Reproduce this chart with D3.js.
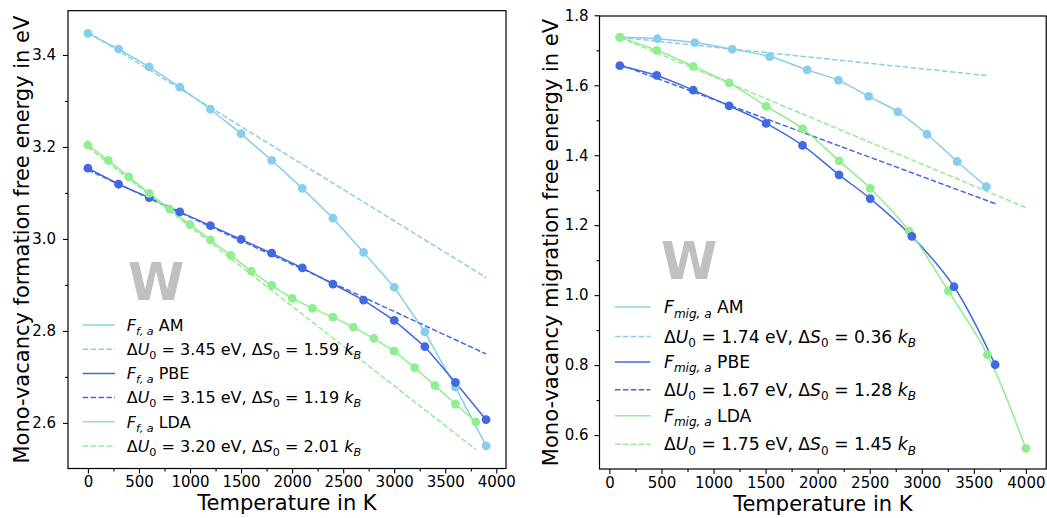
<!DOCTYPE html>
<html><head><meta charset="utf-8">
<script src="https://cdn.jsdelivr.net/npm/d3@7"></script>
<style>
body{margin:0;background:#fff;}
svg{display:block;font-family:"DejaVu Sans",sans-serif;}
</style></head>
<body><svg id="c" width="1047" height="518"></svg>
<script>
// ---------- data ----------
const leftAM_T  = [0,300,600,900,1200,1500,1800,2100,2400,2700,3000,3300,3600,3900];
const leftAM_F  = [3.447,3.413,3.374,3.330,3.282,3.229,3.171,3.110,3.045,2.971,2.895,2.798,2.678,2.550];
const leftPBE_T = [0,300,600,900,1200,1500,1800,2100,2400,2700,3000,3300,3600,3900];
const leftPBE_F = [3.154,3.119,3.090,3.059,3.029,2.999,2.969,2.937,2.902,2.867,2.823,2.766,2.688,2.607];
const leftLDA_T = [0,200,400,600,800,1000,1200,1400,1600,1800,2000,2200,2400,2600,2800,3000,3200,3400,3600,3800];
const leftLDA_F = [3.204,3.171,3.135,3.099,3.065,3.031,2.998,2.964,2.930,2.899,2.871,2.849,2.830,2.808,2.784,2.756,2.720,2.681,2.641,2.602];
const leftFitAM_T = [0,3900],  leftFitAM_F = [3.45,2.916];
const leftFitPBE_T = [0,3900], leftFitPBE_F = [3.15,2.750];
const leftFitLDA_T = [0,3800], leftFitLDA_F = [3.20,2.542];

const rightAM_T  = [100,460,820,1180,1540,1900,2200,2490,2770,3050,3340,3620];
const rightAM_F  = [1.737,1.733,1.722,1.703,1.682,1.644,1.614,1.568,1.524,1.460,1.382,1.310];
const rightPBE_T = [100,455,805,1150,1505,1855,2205,2505,2905,3310,3705];
const rightPBE_F = [1.656,1.628,1.586,1.541,1.491,1.428,1.344,1.276,1.168,1.024,0.801];
const rightLDA_T = [100,455,805,1150,1505,1855,2205,2505,2880,3255,3630,4000];
const rightLDA_F = [1.737,1.700,1.654,1.607,1.540,1.476,1.384,1.305,1.183,1.012,0.830,0.562];
const rightFitAM_T = [100,3620],  rightFitAM_F = [1.737,1.628];
const rightFitPBE_T = [100,3710], rightFitPBE_F = [1.659,1.261];
const rightFitLDA_T = [100,4000], rightFitLDA_F = [1.737,1.250];

const xTicks = [0,500,1000,1500,2000,2500,3000,3500,4000];
const xMinor = [250,750,1250,1750,2250,2750,3250,3750];
const leftYTicks = [2.6,2.8,3.0,3.2,3.4];
const leftYMinor = [2.7,2.9,3.1,3.3];
const rightYTicks = [0.6,0.8,1.0,1.2,1.4,1.6,1.8];
const rightYMinor = [0.7,0.9,1.1,1.3,1.5,1.7];

const leftLegend = [
  {lab:[["F",1,0],["f, a",1,1],[" AM",0,0]]},
  {lab:[["Δ",0,0],["U",1,0],["0",0,1],[" = 3.45 eV, Δ",0,0],["S",1,0],["0",0,1],[" = 1.59 ",0,0],["k",1,0],["B",1,1]]},
  {lab:[["F",1,0],["f, a",1,1],[" PBE",0,0]]},
  {lab:[["Δ",0,0],["U",1,0],["0",0,1],[" = 3.15 eV, Δ",0,0],["S",1,0],["0",0,1],[" = 1.19 ",0,0],["k",1,0],["B",1,1]]},
  {lab:[["F",1,0],["f, a",1,1],[" LDA",0,0]]},
  {lab:[["Δ",0,0],["U",1,0],["0",0,1],[" = 3.20 eV, Δ",0,0],["S",1,0],["0",0,1],[" = 2.01 ",0,0],["k",1,0],["B",1,1]]}
];
const rightLegend = [
  {lab:[["F",1,0],["mig, a",1,1],[" AM",0,0]]},
  {lab:[["Δ",0,0],["U",1,0],["0",0,1],[" = 1.74 eV, Δ",0,0],["S",1,0],["0",0,1],[" = 0.36 ",0,0],["k",1,0],["B",1,1]]},
  {lab:[["F",1,0],["mig, a",1,1],[" PBE",0,0]]},
  {lab:[["Δ",0,0],["U",1,0],["0",0,1],[" = 1.67 eV, Δ",0,0],["S",1,0],["0",0,1],[" = 1.28 ",0,0],["k",1,0],["B",1,1]]},
  {lab:[["F",1,0],["mig, a",1,1],[" LDA",0,0]]},
  {lab:[["Δ",0,0],["U",1,0],["0",0,1],[" = 1.75 eV, Δ",0,0],["S",1,0],["0",0,1],[" = 1.45 ",0,0],["k",1,0],["B",1,1]]}
];

const C_AM = "#87CEEB", C_PBE = "#4169E1", C_LDA = "#90EE90";
const zip = (T,F) => T.map((t,i)=>[t,F[i]]);

const svg = d3.select("#c");

function panel(o){
  const g = svg.append("g");
  const x = d3.scaleLinear().domain(o.xdom).range([o.x0,o.x1]);
  const y = d3.scaleLinear().domain(o.ydom).range([o.y1,o.y0]);
  // watermark
  g.append("text").attr("x",o.wx).attr("y",o.wy).attr("font-size",51).attr("font-weight","bold")
    .attr("fill","#c0c0c0").text("W");
  const clip = "clip"+o.id;
  svg.append("clipPath").attr("id",clip).append("rect")
    .attr("x",o.x0).attr("y",o.y0).attr("width",o.x1-o.x0).attr("height",o.y1-o.y0);
  const pg = g.append("g").attr("clip-path",`url(#${clip})`);
  // lines
  o.series.forEach(s=>{
    pg.append("path").datum(zip(s.T,s.F)).attr("fill","none").attr("stroke",s.c).attr("stroke-width",1.5)
      .attr("d",d3.line().x(d=>x(d[0])).y(d=>y(d[1])).curve(o.curve));
    pg.append("path").datum(zip(s.fT,s.fF)).attr("fill","none").attr("stroke",s.c).attr("stroke-width",1.5)
      .attr("stroke-dasharray","5.5,2.4")
      .attr("d",d3.line().x(d=>x(d[0])).y(d=>y(d[1])));
  });
  o.markerOrder.forEach(i=>{
    const s=o.series[i];
    pg.selectAll(null).data(zip(s.T,s.F)).enter().append("circle")
      .attr("cx",d=>x(d[0])).attr("cy",d=>y(d[1])).attr("r",4.4).attr("fill",s.c);
  });
  // axes
  const xa = g.append("g").attr("transform",`translate(0,${o.y1})`)
    .call(d3.axisBottom(x).tickValues(xTicks).tickSize(5).tickPadding(3).tickFormat(d3.format("d")));
  const xm = g.append("g").attr("transform",`translate(0,${o.y1})`)
    .call(d3.axisBottom(x).tickValues(xMinor).tickSize(3).tickFormat(""));
  const ya = g.append("g").attr("transform",`translate(${o.x0},0)`)
    .call(d3.axisLeft(y).tickValues(o.yTicks).tickSize(5).tickPadding(o.ypad).tickFormat(d3.format(".1f")));
  const ym = g.append("g").attr("transform",`translate(${o.x0},0)`)
    .call(d3.axisLeft(y).tickValues(o.yMinor).tickSize(3).tickFormat(""));
  [xa,xm,ya,ym].forEach(a=>{a.select(".domain").remove();
    a.selectAll("line").attr("stroke","#000").attr("stroke-width",1.1);
    a.selectAll("text").attr("font-family","DejaVu Sans").attr("font-size",15).attr("fill","#000");});
  g.append("rect").attr("x",o.x0).attr("y",o.y0).attr("width",o.x1-o.x0).attr("height",o.y1-o.y0)
    .attr("fill","none").attr("stroke","#000").attr("stroke-width",1.2);
  // axis labels
  g.append("text").attr("x",(o.x0+o.x1)/2).attr("y",o.xlabY).attr("text-anchor","middle")
    .attr("font-size",21).text("Temperature in K");
  g.append("text").attr("transform",`translate(${o.ylabX},${(o.y0+o.y1)/2}) rotate(-90)`)
    .attr("text-anchor","middle").attr("font-size",21).text(o.ylab);
  // legend
  const fs = o.legFS;
  o.legend.forEach((L,i)=>{
    const yy = o.legY[i];
    const s = o.series[Math.floor(i/2)];
    g.append("line").attr("x1",o.legX0).attr("x2",o.legX1).attr("y1",yy).attr("y2",yy)
      .attr("stroke",s.c).attr("stroke-width",1.5).attr("stroke-dasharray", i%2? "5.5,2.4":null);
    const t = g.append("text").attr("x",o.legTX).attr("y",yy+fs*0.36).attr("font-size",fs);
    let shift = 0;
    L.lab.forEach(seg=>{
      const [str,it,sub] = seg;
      const target = sub? fs*0.25:0;
      t.append("tspan").text(str).attr("dy",target-shift)
        .attr("font-style",it?"italic":"normal").attr("font-size",sub?fs*0.7:fs);
      shift = target;
    });
  });
}

panel({id:"L", x0:68, x1:506, y0:10.7, y1:468.5, xdom:[-195,4095], ydom:[2.5009,3.4963],
  yTicks:leftYTicks, yMinor:leftYMinor, ypad:7, xlabY:510, ylabX:28.5,
  ylab:"Mono-vacancy formation free energy in eV", curve:d3.curveLinear,
  wx:128, wy:300,
  series:[{T:leftAM_T,F:leftAM_F,fT:leftFitAM_T,fF:leftFitAM_F,c:C_AM},
          {T:leftPBE_T,F:leftPBE_F,fT:leftFitPBE_T,fF:leftFitPBE_F,c:C_PBE},
          {T:leftLDA_T,F:leftLDA_F,fT:leftFitLDA_T,fF:leftFitLDA_F,c:C_LDA}],
  markerOrder:[0,1,2], legend:leftLegend, legFS:16,
  legX0:82.7, legX1:115, legTX:126.7, legY:[325,349.2,373.4,397.6,421.8,446]});

panel({id:"R", x0:599.5, x1:1046.2, y0:16, y1:469, xdom:[-95,4195], ydom:[0.503,1.798],
  yTicks:rightYTicks, yMinor:rightYMinor, ypad:6, xlabY:511, ylabX:558,
  ylab:"Mono-vacancy migration free energy in eV", curve:d3.curveCatmullRom.alpha(0.5),
  wx:661, wy:278.6,
  series:[{T:rightAM_T,F:rightAM_F,fT:rightFitAM_T,fF:rightFitAM_F,c:C_AM},
          {T:rightPBE_T,F:rightPBE_F,fT:rightFitPBE_T,fF:rightFitPBE_F,c:C_PBE},
          {T:rightLDA_T,F:rightLDA_F,fT:rightFitLDA_T,fF:rightFitLDA_F,c:C_LDA}],
  markerOrder:[0,2,1], legend:rightLegend, legFS:17.2,
  legX0:615, legX1:650.4, legTX:664, legY:[307.1,336.4,361.9,389.8,415.7,444.3]});
</script></body></html>
